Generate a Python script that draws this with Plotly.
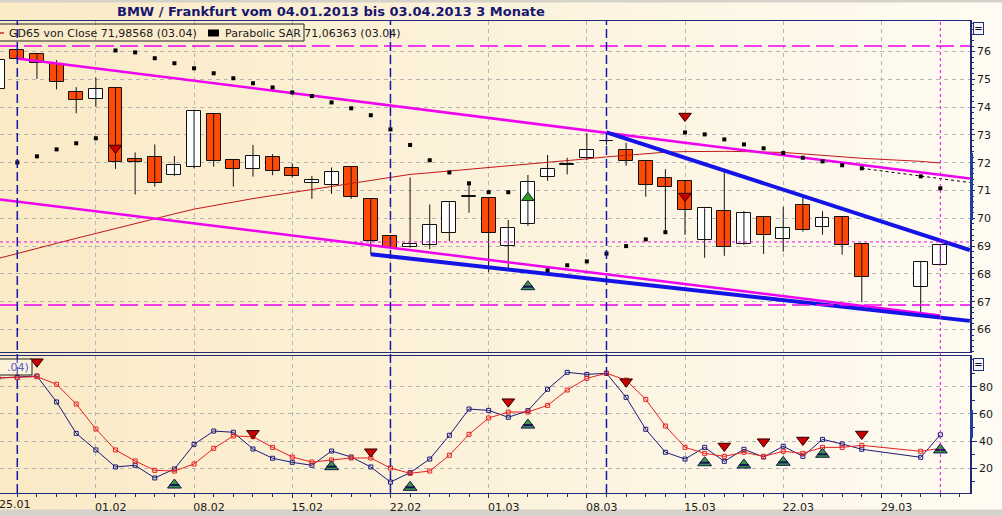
import plotly.graph_objects as go

# ---------------- data ----------------
days = ["25.01", "28.01", "29.01", "30.01", "31.01", "01.02",
        "04.02", "05.02", "06.02", "07.02", "08.02",
        "11.02", "12.02", "13.02", "14.02", "15.02",
        "18.02", "19.02", "20.02", "21.02", "22.02",
        "25.02", "26.02", "27.02", "28.02", "01.03",
        "04.03", "05.03", "06.03", "07.03", "08.03",
        "11.03", "12.03", "13.03", "14.03", "15.03",
        "18.03", "19.03", "20.03", "21.03", "22.03",
        "25.03", "26.03", "27.03", "28.03", "29.03",
        "01.04", "02.04", "03.04"]

opens = [74.64, 76.05, 75.90, 75.54, 74.53, 74.28, 74.68, 72.12, 72.19, 71.57, 71.83,
         73.74, 72.09, 71.78, 72.19, 71.80, 71.26, 71.21, 71.83, 70.68, 69.35,
         68.96, 69.05, 69.46, 70.78, 70.72, 68.99, 69.78, 71.47, 71.93, 72.16,
         72.77, 72.45, 72.05, 71.44, 71.34, 69.21, 70.25, 69.09, 70.04, 69.24,
         70.47, 69.68, 70.04, 69.06, None, None, 67.52, 68.31]
highs = [75.80, 76.10, 75.95, 75.69, 74.72, 75.07, 74.70, 72.37, 72.66, 72.24, 73.87,
         73.75, 72.10, 72.64, 72.31, 71.98, 71.52, 71.83, 71.84, 70.69, 69.36,
         71.47, 70.50, 70.58, 71.23, 70.73, 69.94, 71.56, 72.28, 72.18, 73.06,
         72.94, 72.72, 72.06, 71.77, 71.35, 70.36, 71.65, 70.26, 70.05, 70.41,
         70.74, 70.26, 70.05, 69.07, None, None, 68.43, 69.05]
lows = [74.50, 75.70, 75.02, 74.64, 73.78, 74.01, 71.78, 70.86, 71.14, 71.52, 71.80,
        71.86, 71.14, 71.50, 71.55, 71.47, 70.70, 70.88, 70.70, 68.70, 68.90,
        68.95, 68.89, 69.18, 70.20, 68.06, 68.17, 69.73, 71.35, 71.58, 72.10,
        72.64, 71.89, 70.78, 69.52, 69.40, 68.58, 68.65, 69.05, 68.72, 68.80,
        69.52, 69.41, 68.69, 66.98, None, None, 66.58, 68.30]
closes = [75.69, 75.75, 75.58, 74.89, 74.24, 74.64, 72.01, 72.01, 71.28, 71.91, 73.86,
          72.05, 71.76, 72.23, 71.69, 71.51, 71.38, 71.65, 70.76, 69.18, 68.92,
          69.07, 69.75, 70.58, 70.80, 69.46, 69.64, 71.29, 71.76, 71.95, 72.45,
          72.79, 72.07, 71.19, 71.12, 70.29, 70.36, 68.96, 70.18, 69.39, 69.64,
          69.57, 70.00, 69.05, 67.88, None, None, 68.42, 69.03]

gd65 = [68.55, 68.74, 68.92, 69.10, 69.28, 69.46, 69.64, 69.82, 69.99, 70.16, 70.33,
        70.46, 70.59, 70.71, 70.82, 70.93, 71.04, 71.15, 71.26, 71.37, 71.48,
        71.58, 71.64, 71.70, 71.77, 71.83, 71.89, 71.95, 72.02, 72.08, 72.14,
        72.21, 72.26, 72.32, 72.38, 72.40, 72.41, 72.41, 72.40, 72.39, 72.37,
        72.32, 72.27, 72.21, 72.16, None, None, 72.05, 71.99]

sar = [None, 72.01, 72.23, 72.48, 72.70, 72.88, 76.04, 75.97, 75.76, 75.58, 75.40,
       75.22, 75.04, 74.86, 74.71, 74.53, 74.40, 74.17, 73.96, 73.71, 73.20,
       72.64, 72.09, 71.65, 71.26, 70.94, 70.94, None, 68.13, 68.31, 68.45,
       68.73, 69.00, 69.24, 69.50, 73.09, 73.02, 72.84, 72.66, 72.52, 72.35,
       72.18, 72.05, 71.91, 71.80, None, None, 71.51, 71.08]

stoch_k = [86.4, 86.9, 87.9, 68.8, 45.7, 33.5, 21.0, 22.2, 12.9, 19.5, 37.6,
           47.4, 46.5, 34.2, 27.4, 24.4, 22.2, 32.7, 28.3, 21.0, 9.9,
           16.8, 26.8, 44.3, 63.6, 62.6, 57.5, 62.4, 78.1, 90.6, 89.1,
           89.9, 72.2, 48.7, 31.8, 26.8, 35.4, 25.1, 34.0, 28.3, 36.2,
           28.8, 41.3, 37.9, 34.0, None, None, 28.1, 44.7]
stoch_d = [86.4, 86.9, 87.4, 81.8, 67.3, 48.9, 33.5, 25.4, 18.5, 18.0, 23.2,
           34.7, 43.8, 43.2, 35.4, 28.3, 24.6, 26.1, 27.6, 27.6, 20.2,
           16.3, 18.0, 29.6, 45.0, 57.0, 61.4, 61.4, 66.3, 77.6, 86.2,
           89.9, 84.9, 70.7, 51.1, 35.4, 31.0, 28.8, 31.8, 28.8, 32.5,
           31.0, 35.4, 35.4, 36.9, None, None, 32.5, 34.7]

# signal markers
sell_low_x = [2, 13, 19, 26, 32, 37, 39, 41, 44]
sell_low_y = [98.4, 45.7, 32.2, 69.0, 83.7, 36.4, 39.6, 40.8, 45.2]
buy_low_x = [9, 17, 21, 27, 36, 38, 40, 42, 48]
buy_low_y = [7.7, 21.2, 6.0, 51.8, 24.1, 22.4, 24.4, 30.3, 33.5]
sell_up_x = [6, 35, 35]
sell_up_y = [72.53, 70.80, 73.68]
tri_up_x = [27]
tri_up_y = [70.74]
buy_up_x = [27]
buy_up_y = [67.54]

# trend lines (endpoints)
upper_chan_x, upper_chan_y = [1, 49.5], [75.75, 71.43]
lower_chan_x, lower_chan_y = [0, 48], [70.69, 66.50]
blue_low_x, blue_low_y = [19, 49.5], [68.71, 66.31]
blue_up_x, blue_up_y = [31, 49.5], [73.09, 68.86]
sar_line_x, sar_line_y = [44, 49.5], [71.80, 71.29]

resist_levels = [76.2, 66.88]
cross_price = 69.15
marker_days = [1, 20, 31]
last_day = 48

friday_idx = [0, 5, 10, 15, 20, 25, 30, 35, 40, 45]
friday_lbl = [days[i] for i in friday_idx]
price_ticks = [66, 67, 68, 69, 70, 71, 72, 73, 74, 75, 76]
osc_ticks = [20, 40, 60, 80]

# ---------------- geometry ----------------
W, H = 1002, 516
ML, MR, MT, MB = 0, 32, 21, 23
PW, PH = W - ML - MR, H - MT - MB
def px_x(p):
    return p / PW
def px_y(p):
    return 1 - (p - MT) / PH

NAVY = "#1E2C78"
GRID = "#B5B5B5"
MAG = "#F000F0"
RED_BODY = "#FF4A05"
FONT = "DejaVu Sans"

fig = go.Figure()

# wicks
wx, wy = [], []
for i, (h, l) in enumerate(zip(highs, lows)):
    if h is None:
        continue
    wx += [i, i, None]
    wy += [l, h, None]
fig.add_trace(go.Scatter(x=wx, y=wy, mode="lines", line=dict(color="#111111", width=1),
                         xaxis="x", yaxis="y", hoverinfo="skip"))

# bodies
for up in (True, False):
    xs, hs, bs = [], [], []
    for i, (o, c) in enumerate(zip(opens, closes)):
        if o is None:
            continue
        if (c >= o) == up:
            xs.append(i)
            hs.append(max(abs(c - o), 0.012))
            bs.append(min(o, c))
    fig.add_trace(go.Bar(x=xs, y=hs, base=bs, width=0.71, xaxis="x", yaxis="y",
                         marker=dict(color="#FFFFFF" if up else RED_BODY,
                                     line=dict(color="#111111", width=1))))

# GD65
fig.add_trace(go.Scatter(x=list(range(len(days))), y=gd65, mode="lines", connectgaps=True,
                         line=dict(color="#C01818", width=1), xaxis="x", yaxis="y"))

# trend lines
for tx, ty, col, w in [(upper_chan_x, upper_chan_y, MAG, 2.5),
                       (lower_chan_x, lower_chan_y, MAG, 2.5),
                       (blue_low_x, blue_low_y, "#1414E6", 4),
                       (blue_up_x, blue_up_y, "#1414E6", 4)]:
    fig.add_trace(go.Scatter(x=tx, y=ty, mode="lines", line=dict(color=col, width=w),
                             xaxis="x", yaxis="y"))
fig.add_trace(go.Scatter(x=sar_line_x, y=sar_line_y, mode="lines",
                         line=dict(color="#000000", width=1, dash="3px,3px"),
                         xaxis="x", yaxis="y"))

# SAR dots
fig.add_trace(go.Scatter(x=list(range(len(days))), y=sar, mode="markers",
                         marker=dict(symbol="square", size=4, color="#000000"),
                         xaxis="x", yaxis="y"))

# upper markers
fig.add_trace(go.Scatter(x=sell_up_x, y=sell_up_y, mode="markers", xaxis="x", yaxis="y",
                         marker=dict(symbol="triangle-down", size=11, color="#C80000",
                                     line=dict(color="#300000", width=1))))
fig.add_trace(go.Scatter(x=tri_up_x, y=tri_up_y, mode="markers", xaxis="x", yaxis="y",
                         marker=dict(symbol="triangle-up", size=11, color="#2E9A2E",
                                     line=dict(color="#103010", width=1))))

def buy_marker(xv, yv, xa, ya):
    fig.add_trace(go.Scatter(x=xv, y=yv, mode="markers", xaxis=xa, yaxis=ya,
                             marker=dict(symbol="triangle-up", size=12, color="#3A9A3A",
                                         line=dict(color="#14145A", width=1))))
    fig.add_trace(go.Scatter(x=xv, y=yv, mode="markers", xaxis=xa, yaxis=ya,
                             marker=dict(symbol="line-ew", size=7,
                                         line=dict(color="#14145A", width=2))))

buy_marker(buy_up_x, buy_up_y, "x", "y")

# oscillator
idx = list(range(len(days)))
fig.add_trace(go.Scatter(x=idx, y=stoch_k, mode="lines+markers", connectgaps=True,
                         xaxis="x2", yaxis="y2", line=dict(color="#1A1A7A", width=1),
                         marker=dict(symbol="square-open", size=4, color="#1A1A7A")))
fig.add_trace(go.Scatter(x=idx, y=stoch_d, mode="lines+markers", connectgaps=True,
                         xaxis="x2", yaxis="y2", line=dict(color="#E82020", width=1),
                         marker=dict(symbol="square-open", size=4, color="#E82020")))
fig.add_trace(go.Scatter(x=sell_low_x, y=sell_low_y, mode="markers", xaxis="x2", yaxis="y2",
                         marker=dict(symbol="triangle-down", size=11, color="#C80000",
                                     line=dict(color="#300000", width=1))))
buy_marker(buy_low_x, buy_low_y, "x2", "y2")

# ---------------- shapes ----------------
shapes = []
# background gradient
N = 48
xt = W / PW
y0b, y1b = -MB / PH, 1 + MT / PH
for k in range(N):
    t = k / (N - 1)
    r = round(250 + 4 * t)
    g = round(234 + 17 * t)
    b = round(198 + 44 * t)
    shapes.append(dict(type="rect", xref="paper", yref="paper", layer="below",
                       x0=k * xt / N, x1=(k + 1) * xt / N + 0.002, y0=y0b, y1=y1b,
                       fillcolor=f"rgb({r},{g},{b})", line=dict(width=0)))
shapes.append(dict(type="rect", xref="paper", yref="paper", layer="below",
                   x0=0, x1=xt, y0=y0b, y1=px_y(509.5), fillcolor="#D6D2CA", line=dict(width=0)))
shapes.append(dict(type="rect", xref="paper", yref="paper", layer="below",
                   x0=0, x1=xt, y0=px_y(2.5), y1=y1b, fillcolor="#D6D2CA", line=dict(width=0)))

for lv in resist_levels:
    shapes.append(dict(type="line", xref="paper", yref="y", x0=0, x1=1, y0=lv, y1=lv,
                       line=dict(color=MAG, width=1.5, dash="18px,6px")))
shapes.append(dict(type="line", xref="paper", yref="y", x0=0, x1=1, y0=cross_price, y1=cross_price,
                   line=dict(color=MAG, width=1, dash="3px,3px")))
for d in marker_days:
    shapes.append(dict(type="line", xref="x", yref="paper", x0=d, x1=d, y0=0, y1=1,
                       line=dict(color="#1818A8", width=1.5, dash="9px,4px")))
shapes.append(dict(type="line", xref="x", yref="paper", x0=last_day, x1=last_day, y0=0, y1=1,
                   line=dict(color=MAG, width=1, dash="3px,3px")))

# legend box & symbols
shapes.append(dict(type="rect", xref="paper", yref="paper", x0=px_x(-5), x1=px_x(304),
                   y0=px_y(41), y1=px_y(24), line=dict(color="#222222", width=1)))
shapes.append(dict(type="line", xref="paper", yref="paper", x0=px_x(0), x1=px_x(4),
                   y0=px_y(33), y1=px_y(33), line=dict(color="#D02020", width=1.5)))
shapes.append(dict(type="rect", xref="paper", yref="paper", x0=px_x(208), x1=px_x(219),
                   y0=px_y(36.5), y1=px_y(29.5), fillcolor="#000000", line=dict(width=0)))
shapes.append(dict(type="rect", xref="paper", yref="paper", x0=px_x(-5), x1=px_x(32),
                   y0=px_y(375), y1=px_y(359), line=dict(color="#222222", width=1),
                   fillcolor="rgba(255,255,255,0.35)"))
# axis highlight bars
shapes.append(dict(type="line", xref="paper", yref="paper", x0=px_x(971.5), x1=px_x(971.5),
                   y0=px_y(220), y1=px_y(153), line=dict(color="#2040A0", width=3)))
shapes.append(dict(type="line", xref="paper", yref="paper", x0=px_x(971.5), x1=px_x(971.5),
                   y0=px_y(438), y1=px_y(410), line=dict(color="#2040A0", width=3)))

# ---------------- annotations ----------------
ann = [
    dict(text="<b>BMW / Frankfurt vom 04.01.2013 bis 03.04.2013 3 Monate</b>",
         xref="paper", yref="paper", x=px_x(331), y=px_y(12), showarrow=False,
         xanchor="center", yanchor="middle", font=dict(family=FONT, size=13, color="#17176E")),
    dict(text="GD65 von Close 71,98568 (03.04)", xref="paper", yref="paper",
         x=px_x(7), y=px_y(33), showarrow=False, xanchor="left", yanchor="middle",
         font=dict(family=FONT, size=11, color="#1A1A1A")),
    dict(text="Parabolic SAR 71,06363 (03.04)", xref="paper", yref="paper",
         x=px_x(223), y=px_y(33), showarrow=False, xanchor="left", yanchor="middle",
         font=dict(family=FONT, size=11, color="#1A1A1A")),
    dict(text=".04)", xref="paper", yref="paper", x=px_x(31), y=px_y(367), showarrow=False,
         xanchor="right", yanchor="middle", font=dict(family=FONT, size=11, color="#5060C8")),
    dict(text=days[0], xref="paper", yref="paper", x=px_x(-3), y=px_y(504), showarrow=False,
         xanchor="left", yanchor="middle", font=dict(family=FONT, size=11, color="#1A1A1A")),
    dict(text="=", xref="paper", yref="paper", x=px_x(978.5), y=px_y(28.5), showarrow=False,
         xanchor="center", yanchor="middle", width=9, height=11, bordercolor=NAVY,
         borderwidth=1, borderpad=0, bgcolor="#F4F4FA",
         font=dict(family=FONT, size=10, color="#111111")),
    dict(text="=", xref="paper", yref="paper", x=px_x(978.5), y=px_y(364), showarrow=False,
         xanchor="center", yanchor="middle", width=9, height=11, bordercolor=NAVY,
         borderwidth=1, borderpad=0, bgcolor="#F4F4FA",
         font=dict(family=FONT, size=10, color="#111111")),
]

xr = [0.119, 49.51]
top_dom = [px_y(352), 1]
bot_dom = [0, px_y(356)]

fig.update_layout(
    width=W, height=H, margin=dict(l=ML, r=MR, t=MT, b=MB, pad=0),
    paper_bgcolor="#FCF4E2", plot_bgcolor="rgba(0,0,0,0)",
    showlegend=False, barmode="overlay", bargap=0,
    font=dict(family=FONT, size=11, color="#1A1A1A"),
    shapes=shapes, annotations=ann,
    xaxis=dict(domain=[0, 1], anchor="y", range=xr, matches="x2",
               tickvals=friday_idx, ticktext=friday_lbl, showticklabels=False, ticks="",
               showgrid=True, gridcolor=GRID, griddash="4px,4px", gridwidth=1,
               zeroline=False, showline=True, mirror=True, linecolor=NAVY, linewidth=1),
    xaxis2=dict(domain=[0, 1], anchor="y2", range=xr,
                tickvals=friday_idx, ticktext=friday_lbl, ticks="outside", ticklen=4,
                tickcolor=NAVY, ticklabelshift=15,
                minor=dict(dtick=1, tick0=0, ticks="outside", ticklen=3, tickcolor=NAVY),
                showgrid=True, gridcolor=GRID, griddash="4px,4px", gridwidth=1,
                zeroline=False, showline=True, mirror=True, linecolor=NAVY, linewidth=1,
                tickfont=dict(family=FONT, size=11, color="#1A1A1A")),
    yaxis=dict(domain=top_dom, anchor="x", side="right", range=[65.19, 77.10],
               tickvals=price_ticks, ticks="outside", ticklen=3, tickcolor=NAVY,
               minor=dict(tick0=0, dtick=0.2, ticks="outside", ticklen=2, tickcolor=NAVY),
               showgrid=True, gridcolor=GRID, griddash="4px,4px", gridwidth=1,
               zeroline=False, showline=True, linecolor=NAVY, linewidth=1.5,
               tickfont=dict(family=FONT, size=11, color="#1A1A1A")),
    yaxis2=dict(domain=bot_dom, anchor="x2", side="right", range=[1.84, 102.6],
                tickvals=osc_ticks, ticks="outside", ticklen=5, tickcolor=NAVY,
                minor=dict(tick0=0, dtick=10, ticks="outside", ticklen=3, tickcolor=NAVY),
                showgrid=True, gridcolor=GRID, griddash="4px,4px", gridwidth=1,
                zeroline=False, showline=True, linecolor=NAVY, linewidth=1.5,
                tickfont=dict(family=FONT, size=11, color="#1A1A1A")),
)

fig.write_html("out.html", config={"displayModeBar": False},
               post_script="document.body.style.margin='0';document.body.style.overflow='hidden';")
